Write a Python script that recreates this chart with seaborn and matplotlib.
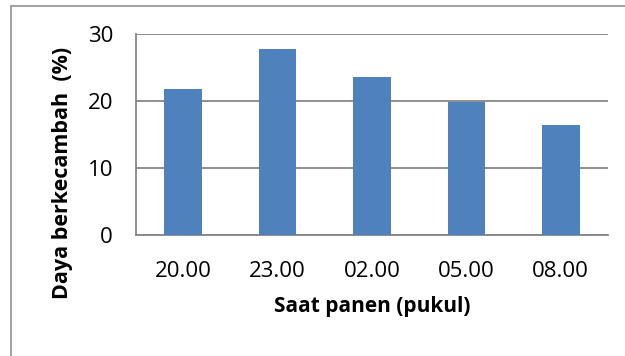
import matplotlib
matplotlib.use("Agg")
import matplotlib.pyplot as plt
import seaborn as sns
import pandas as pd
import numpy as np
from matplotlib.lines import Line2D

# data
waktu = ["20.00", "23.00", "02.00", "05.00", "08.00"]
daya = [21.8, 27.8, 23.6, 19.8, 16.4]

df = pd.DataFrame({"waktu": waktu, "daya": daya})

sns.set_style("white")
plt.rcParams['font.family'] = ['Open Sans', 'DejaVu Sans']
plt.rcParams['text.color'] = 'black'
plt.rcParams['axes.labelcolor'] = 'black'
plt.rcParams['xtick.labelcolor'] = 'black'
plt.rcParams['ytick.labelcolor'] = 'black'

fig = plt.figure(figsize=(6.25, 3.56), dpi=100)
ax = fig.add_axes([136/625, 1-235/356, (608-136)/625, (235-34)/356])

sns.barplot(data=df, x="waktu", y="daya", color="#4F81BD", width=0.4,
            saturation=1, edgecolor="none", linewidth=0, ax=ax, zorder=3)

grid_col = "#868686"
ax.set_ylim(0, 30)
ax.set_yticks([0, 10, 20, 30])
ax.set_xlim(-0.5, len(waktu) - 0.5)
ax.yaxis.grid(True, color=grid_col, linewidth=1.3, zorder=0)
ax.set_axisbelow(True)

for s in ["top", "right"]:
    ax.spines[s].set_visible(False)
for s in ["left", "bottom"]:
    ax.spines[s].set_color(grid_col)
    ax.spines[s].set_linewidth(1.3)

# x ticks sit between categories
ax.set_xticks(np.arange(-0.5, len(waktu)), minor=True)
ax.tick_params(axis="x", which="major", length=0, pad=19, labelsize=16)
ax.tick_params(axis="x", which="minor", length=5.5, width=1.3, color=grid_col, direction="out")
ax.tick_params(axis="y", length=5.5, width=1.3, color=grid_col, direction="out", pad=11, labelsize=16)

ax.set_xlabel("Saat panen (pukul)", fontsize=15, fontweight="bold", labelpad=10)
ax.set_ylabel("Daya berkecambah  (%)", fontsize=15.5, fontweight="bold")
ax.yaxis.set_label_coords(-0.134, 0.31)

# chart area border (top and left edges visible)
fig.add_artist(Line2D([10.5/625, 10.5/625], [0, 1-5.5/356], transform=fig.transFigure,
                      color="#9a9a9a", linewidth=1.3))
fig.add_artist(Line2D([10.5/625, 1], [1-5.5/356, 1-5.5/356], transform=fig.transFigure,
                      color="#9a9a9a", linewidth=1.3))

fig.savefig("out.png", dpi=100)
